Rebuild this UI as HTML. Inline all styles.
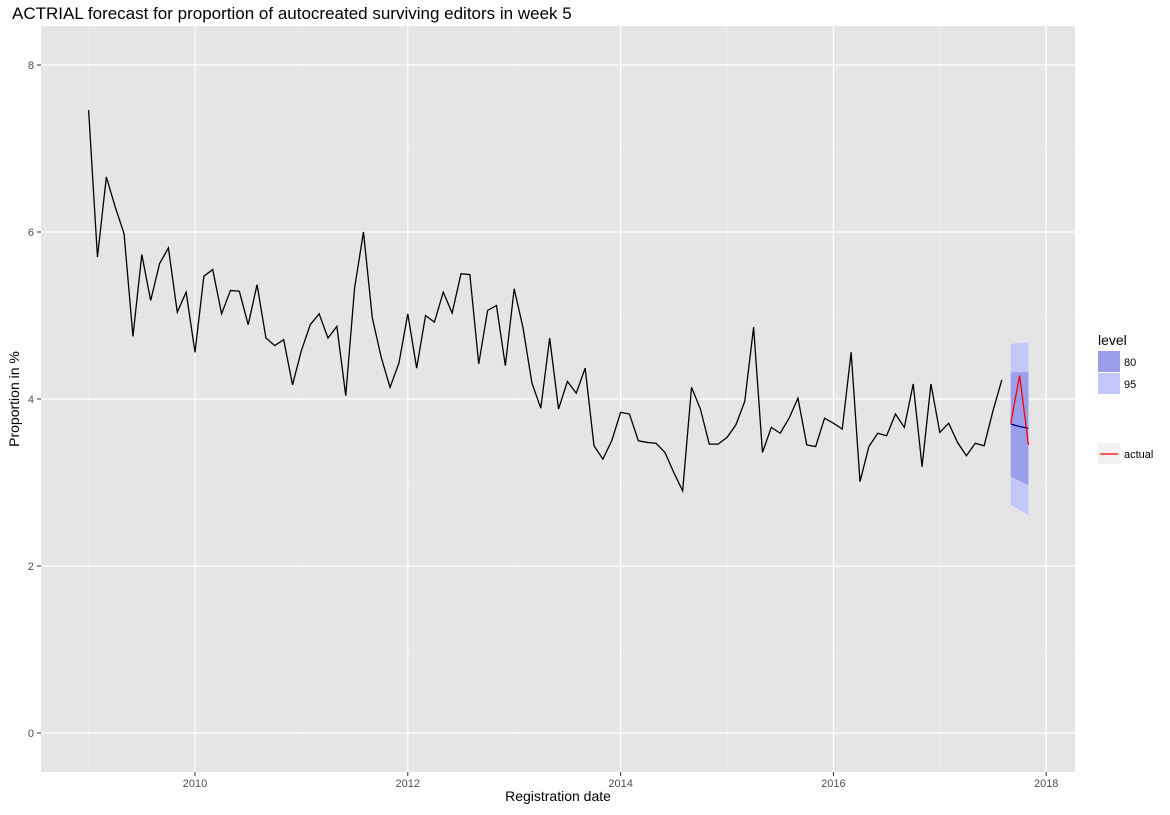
<!DOCTYPE html>
<html><head><meta charset="utf-8"><style>
body{margin:0;background:#fff;font-family:"Liberation Sans",sans-serif}
svg text{font-family:"Liberation Sans",sans-serif}
</style></head><body>
<svg id="c" width="1170" height="810">
<rect x="0" y="0" width="1170" height="810" fill="#fff"/>
<text x="12" y="19" font-size="17" fill="#000">ACTRIAL forecast for proportion of autocreated surviving editors in week 5</text>
<rect x="41" y="26" width="1034" height="746" fill="#e5e5e5"/>
<g id="grid"></g>
<g id="bands"></g>
<g id="lines"></g>
<g id="axes"></g>
<text x="558" y="801" font-size="14" text-anchor="middle">Registration date</text>
<text transform="translate(19,399) rotate(-90)" font-size="14" text-anchor="middle">Proportion in %</text>
<text x="1098" y="345" font-size="14">level</text>
<rect x="1098" y="351" width="22" height="21" fill="#9a9eeb"/>
<text x="1124" y="366" font-size="11">80</text>
<rect x="1098" y="373" width="22" height="21" fill="#c3c6fa"/>
<text x="1124" y="388" font-size="11">95</text>
<rect x="1098" y="443" width="22" height="21" fill="#f2f2f2"/>
<line x1="1100" y1="454" x2="1118" y2="454" stroke="#f00" stroke-width="1.2"/>
<text x="1124" y="458" font-size="11">actual</text>
</svg>
<script>
const values=[7.46,5.70,6.66,6.30,5.98,4.75,5.73,5.18,5.62,5.81,5.04,5.28,4.56,5.47,5.55,5.02,5.30,5.29,4.89,5.37,4.73,4.64,4.71,4.17,4.58,4.89,5.02,4.73,4.87,4.04,5.33,6.00,4.97,4.50,4.14,4.43,5.02,4.37,5.00,4.92,5.28,5.03,5.50,5.49,4.42,5.06,5.12,4.40,5.32,4.85,4.19,3.89,4.73,3.88,4.21,4.07,4.37,3.44,3.28,3.50,3.84,3.82,3.50,3.48,3.47,3.36,3.12,2.90,4.14,3.88,3.46,3.46,3.54,3.69,3.97,4.86,3.36,3.66,3.59,3.77,4.01,3.45,3.43,3.77,3.71,3.64,4.56,3.01,3.43,3.59,3.56,3.82,3.66,4.18,3.19,4.18,3.60,3.71,3.48,3.32,3.47,3.44,3.86,4.23];
const startYear=2009;
const fcMean=[3.70,3.67,3.65];
const fcLo80=[3.07,3.02,2.97];
const fcHi80=[4.32,4.32,4.32];
const fcLo95=[2.73,2.67,2.61];
const fcHi95=[4.66,4.67,4.68];
const actual=[3.71,4.28,3.45];
const yTicks=[0,2,4,6,8];
const xTicks=[2010,2012,2014,2016,2018];
const NS="http://www.w3.org/2000/svg";
const X=t=>195+(t-2010)*106.4;
const Y=v=>733-v*83.5;
const tm=i=>startYear+i/12;
function mk(tag,attrs,parent){const e=document.createElementNS(NS,tag);for(const k in attrs)e.setAttribute(k,attrs[k]);document.getElementById(parent).appendChild(e);return e;}
for(let v=-1;v<=8;v+=2){if(Y(v)>26&&Y(v)<772){const l=mk('line',{x1:41,x2:1075,y1:Y(v),y2:Y(v),stroke:'#f2f2f2','stroke-width':0.6},'grid');}}
for(let t=2009;t<=2017;t+=2){const l=mk('line',{x1:X(t),x2:X(t),y1:26,y2:772,stroke:'#f2f2f2','stroke-width':0.6},'grid');}
yTicks.forEach(v=>{const l=mk('line',{x1:41,x2:1075,y1:Y(v),y2:Y(v),stroke:'#fff','stroke-width':1.2},'grid');
const tk=mk('line',{x1:37,x2:41,y1:Y(v),y2:Y(v),stroke:'#333'},'axes');
const tx=mk('text',{x:34,y:Y(v)+4,'font-size':11,'text-anchor':'end',fill:'#4d4d4d'},'axes');tx.textContent=v;});
xTicks.forEach(t=>{const l=mk('line',{x1:X(t),x2:X(t),y1:26,y2:772,stroke:'#fff','stroke-width':1.2},'grid');
const tk=mk('line',{x1:X(t),x2:X(t),y1:772,y2:776,stroke:'#333'},'axes');
const tx=mk('text',{x:X(t),y:787,'font-size':11,'text-anchor':'middle',fill:'#4d4d4d'},'axes');tx.textContent=t;});
const n=values.length;
function band(lo,hi,fill,name){let pts=[];for(let i=0;i<hi.length;i++)pts.push(X(tm(n+i))+','+Y(hi[i]));for(let i=lo.length-1;i>=0;i--)pts.push(X(tm(n+i))+','+Y(lo[i]));const p=mk('polygon',{points:pts.join(' '),fill:fill},'bands');}
band(fcLo95,fcHi95,'#c3c6fa','band-95');
band(fcLo80,fcHi80,'#9a9eeb','band-80');
const hist=mk('polyline',{points:values.map((v,i)=>X(tm(i))+','+Y(v)).join(' '),fill:'none',stroke:'#000','stroke-width':1.3},'lines');


const fm=mk('polyline',{points:fcMean.map((v,i)=>X(tm(n+i))+','+Y(v)).join(' '),fill:'none',stroke:'#00008b','stroke-width':1.3},'lines');


const ac=mk('polyline',{points:actual.map((v,i)=>X(tm(n+i))+','+Y(v)).join(' '),fill:'none',stroke:'#f00','stroke-width':1.3},'lines');


</script>
</body></html>
